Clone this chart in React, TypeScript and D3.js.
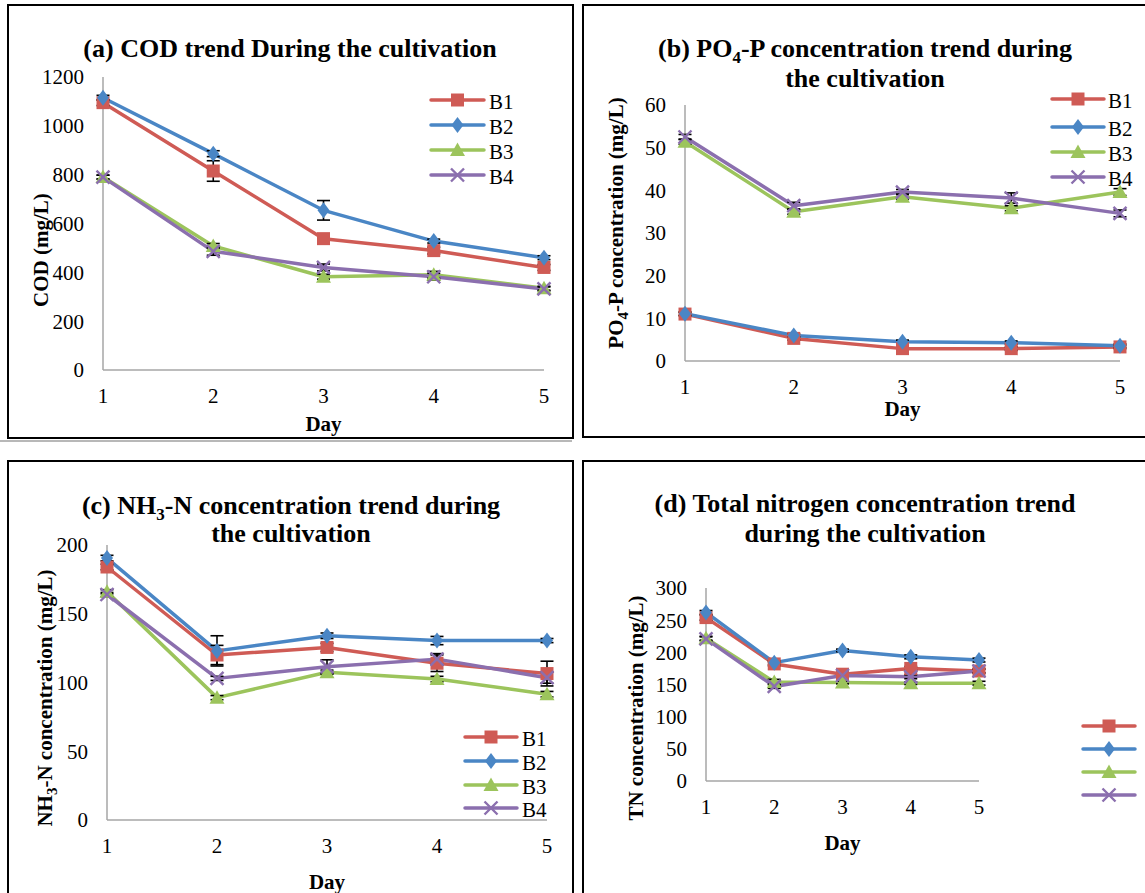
import React from "react";
import * as d3 from "d3";

// ---------- data ----------
const days = [1, 2, 3, 4, 5];
const seriesNames = ["B1", "B2", "B3", "B4"];

// (a) COD (mg/L)
const codB1 = [1095, 815, 538, 489, 420];
const codB2 = [1115, 886, 654, 528, 460];
const codB3 = [790, 508, 382, 390, 335];
const codB4 = [790, 486, 420, 382, 332];
const codErrB1 = [12, 42, 12, 14, 12];
const codErrB2 = [10, 12, 40, 8, 8];
const codErrB3 = [8, 10, 10, 14, 8];
const codErrB4 = [8, 16, 14, 14, 8];
const codTicks = [0, 200, 400, 600, 800, 1000, 1200];

// (b) PO4-P (mg/L)
const poB1 = [11.0, 5.3, 2.9, 2.9, 3.3];
const poB2 = [11.1, 6.0, 4.5, 4.3, 3.6];
const poB3 = [51.4, 35.0, 38.5, 35.8, 39.6];
const poB4 = [52.5, 36.4, 39.6, 38.2, 34.6];
const poErrB1 = [0.4, 0.4, 0.4, 0.4, 0.4];
const poErrB2 = [0.4, 0.4, 0.4, 0.4, 0.4];
const poErrB3 = [0.6, 0.6, 0.6, 0.6, 0.8];
const poErrB4 = [0.6, 0.8, 0.6, 1.2, 0.8];
const poTicks = [0, 10, 20, 30, 40, 50, 60];

// (c) NH3-N (mg/L)
const nhB1 = [184, 120, 125.5, 114, 106.5];
const nhB2 = [190.5, 123, 134, 130.5, 130.5];
const nhB3 = [166, 89, 107.5, 102.5, 91.5];
const nhB4 = [164, 103, 111.5, 117, 103.5];
const nhErrB1 = [2, 7, 3, 6, 9];
const nhErrB2 = [2, 11, 2, 3, 1.5];
const nhErrB3 = [1.5, 1.5, 1.5, 2, 2];
const nhErrB4 = [1.5, 1.5, 5, 4, 4];
const nhTicks = [0, 50, 100, 150, 200];

// (d) TN (mg/L)
const tnB1 = [254, 182, 166, 175, 171];
const tnB2 = [262, 184, 203, 193, 188];
const tnB3 = [222, 154, 153, 152, 152];
const tnB4 = [221, 147, 164, 162, 171];
const tnErrB1 = [4, 3, 3, 3, 3];
const tnErrB2 = [3, 3, 2, 3, 3];
const tnErrB3 = [3, 4, 2, 2, 3];
const tnErrB4 = [3, 3, 3, 3, 3];
const tnTicks = [0, 50, 100, 150, 200, 250, 300];

// ---------- styles ----------
const colors = ["#CF5B55", "#4A86C5", "#9CC45C", "#8B6FAE"];
const markerPaths = [
  "M-6.5,-6.5H6.5V6.5H-6.5Z",
  "M0,-8L6,0L0,8L-6,0Z",
  "M0,-7.5L7.5,6L-7.5,6Z",
  "M-6.5,-6.5L6.5,6.5M6.5,-6.5L-6.5,6.5",
];
const FONT = "'Liberation Serif', 'Times New Roman', serif";

interface PanelDef {
  box: [number, number, number, number];
  xr: [number, number];
  yr: [number, number];
  ymax: number;
  ticks: number[];
  values: number[][];
  errs: number[][];
  title: React.ReactNode[];
  titleX: number;
  titleY: number[];
  ylabel: React.ReactNode;
  ylabelPos: [number, number];
  dayY: number;
  legend: { x0: number; x1: number; tx: number; ys: number[]; text: boolean };
}

const panels: PanelDef[] = [
  {
    box: [8, 5, 573, 438],
    xr: [103, 544],
    yr: [370, 77],
    ymax: 1200,
    ticks: codTicks,
    values: [codB1, codB2, codB3, codB4],
    errs: [codErrB1, codErrB2, codErrB3, codErrB4],
    title: ["(a) COD trend During the cultivation"],
    titleX: 290,
    titleY: [48],
    ylabel: "COD (mg/L)",
    ylabelPos: [41, 250],
    dayY: 424,
    legend: { x0: 431, x1: 484, tx: 489, ys: [100, 125, 150, 175], text: true },
  },
  {
    box: [583, 5, 1160, 437],
    xr: [685, 1120],
    yr: [361, 105],
    ymax: 60,
    ticks: poTicks,
    values: [poB1, poB2, poB3, poB4],
    errs: [poErrB1, poErrB2, poErrB3, poErrB4],
    title: [
      <>
        (b) PO<tspan dy={6} fontSize={17}>4</tspan>
        <tspan dy={-6}>-P concentration trend during</tspan>
      </>,
      "the cultivation",
    ],
    titleX: 865,
    titleY: [48, 78],
    ylabel: (
      <>
        PO<tspan dy={5} fontSize={15}>4</tspan>
        <tspan dy={-5}>-P concentration (mg/L)</tspan>
      </>
    ),
    ylabelPos: [616, 223],
    dayY: 409,
    legend: { x0: 1052, x1: 1104, tx: 1108, ys: [99, 127, 152, 177], text: true },
  },
  {
    box: [8, 461, 573, 910],
    xr: [107, 547],
    yr: [820, 545],
    ymax: 200,
    ticks: nhTicks,
    values: [nhB1, nhB2, nhB3, nhB4],
    errs: [nhErrB1, nhErrB2, nhErrB3, nhErrB4],
    title: [
      <>
        (c) NH<tspan dy={6} fontSize={17}>3</tspan>
        <tspan dy={-6}>-N concentration trend during</tspan>
      </>,
      "the cultivation",
    ],
    titleX: 291,
    titleY: [505, 533],
    ylabel: (
      <>
        NH<tspan dy={5} fontSize={15}>3</tspan>
        <tspan dy={-5}>-N concentration (mg/L)</tspan>
      </>
    ),
    ylabelPos: [45, 698],
    dayY: 882,
    legend: { x0: 465, x1: 517, tx: 522, ys: [737, 761, 785, 808], text: true },
  },
  {
    box: [583, 461, 1160, 910],
    xr: [706, 979],
    yr: [781, 588],
    ymax: 300,
    ticks: tnTicks,
    values: [tnB1, tnB2, tnB3, tnB4],
    errs: [tnErrB1, tnErrB2, tnErrB3, tnErrB4],
    title: ["(d) Total nitrogen concentration trend", "during the cultivation"],
    titleX: 865,
    titleY: [503, 533],
    ylabel: "TN concentration (mg/L)",
    ylabelPos: [636, 708],
    dayY: 843,
    legend: { x0: 1083, x1: 1135, tx: 1140, ys: [726, 749, 772, 795], text: false },
  },
];

function Marker({ i, x, y }: { i: number; x: number; y: number }) {
  const c = colors[i];
  if (i === 3) {
    return (
      <path d={markerPaths[i]} transform={`translate(${x},${y})`} fill="none" stroke={c} strokeWidth={2.4} />
    );
  }
  return <path d={markerPaths[i]} transform={`translate(${x},${y})`} fill={c} stroke="none" />;
}

function Panel({ p }: { p: PanelDef }) {
  const x = d3.scaleLinear().domain([1, 5]).range(p.xr);
  const y = d3.scaleLinear().domain([0, p.ymax]).range(p.yr);
  const line = d3
    .line<number>()
    .x((_, i) => x(days[i]))
    .y((v) => y(v));
  const [bx0, by0, bx1, by1] = p.box;
  const y0 = y(0);
  return (
    <g>
      <rect x={bx0} y={by0} width={bx1 - bx0} height={by1 - by0} fill="white" stroke="black" strokeWidth={2} />
      {/* title */}
      <text fontFamily={FONT} fontWeight="bold" fontSize={26} textAnchor="middle">
        {p.title.map((t, k) => (
          <tspan key={k} x={p.titleX} y={p.titleY[k] + 9}>
            {t}
          </tspan>
        ))}
      </text>
      {/* axes */}
      <line x1={p.xr[0]} x2={p.xr[0]} y1={y0} y2={y(p.ymax)} stroke="#A6A6A6" strokeWidth={1.5} />
      <line x1={p.xr[0]} x2={p.xr[1]} y1={y0} y2={y0} stroke="#A6A6A6" strokeWidth={1.5} />
      {p.ticks.map((t) => (
        <text key={t} x={p.xr[0] - 19} y={y(t)} dy="0.35em" textAnchor="end" fontFamily={FONT} fontSize={21}>
          {t}
        </text>
      ))}
      {days.map((d) => (
        <text key={d} x={x(d)} y={y0 + 26} dy="0.35em" textAnchor="middle" fontFamily={FONT} fontSize={21}>
          {d}
        </text>
      ))}
      <text x={x(3)} y={p.dayY} dy="0.35em" textAnchor="middle" fontFamily={FONT} fontWeight="bold" fontSize={21}>
        Day
      </text>
      <text
        transform={`translate(${p.ylabelPos[0]},${p.ylabelPos[1]}) rotate(-90)`}
        dy="0.35em"
        textAnchor="middle"
        fontFamily={FONT}
        fontWeight="bold"
        fontSize={21}
      >
        {p.ylabel}
      </text>
      {/* series lines */}
      {p.values.map((vals, i) => (
        <path key={i} d={line(vals) || ""} fill="none" stroke={colors[i]} strokeWidth={3.5} strokeLinejoin="round" />
      ))}
      {/* error bars */}
      {p.values.map((vals, i) =>
        vals.map((v, j) => {
          const e = p.errs[i][j];
          const cx = x(days[j]);
          const yt = y(v + e);
          const yb = y(v - e);
          return (
            <g key={`e${i}-${j}`} stroke="black" strokeWidth={1.6}>
              <line x1={cx} x2={cx} y1={yt} y2={yb} />
              <line x1={cx - 6.5} x2={cx + 6.5} y1={yt} y2={yt} />
              <line x1={cx - 6.5} x2={cx + 6.5} y1={yb} y2={yb} />
            </g>
          );
        })
      )}
      {/* markers */}
      {p.values.map((vals, i) =>
        vals.map((v, j) => <Marker key={`m${i}-${j}`} i={i} x={x(days[j])} y={y(v)} />)
      )}
      {/* legend */}
      {seriesNames.map((name, i) => {
        const ly = p.legend.ys[i];
        const mx = (p.legend.x0 + p.legend.x1) / 2;
        return (
          <g key={name}>
            <line x1={p.legend.x0} x2={p.legend.x1} y1={ly} y2={ly} stroke={colors[i]} strokeWidth={3.5} strokeLinecap="round" />
            <Marker i={i} x={mx} y={ly} />
            {p.legend.text && (
              <text x={p.legend.tx} y={ly + 2} dy="0.35em" fontFamily={FONT} fontSize={21}>
                {name}
              </text>
            )}
          </g>
        );
      })}
    </g>
  );
}

export default function App() {
  return (
    <svg
      width={1145}
      height={893}
      viewBox="0 0 1145 893"
      style={{ position: "absolute", left: 0, top: 0, background: "white" }}
    >
      <rect x={0} y={0} width={1145} height={893} fill="white" />
      <line x1={0} x2={572} y1={441} y2={441} stroke="#A0A0A0" strokeWidth={1.5} />
      {panels.map((p, k) => (
        <Panel key={k} p={p} />
      ))}
    </svg>
  );
}
